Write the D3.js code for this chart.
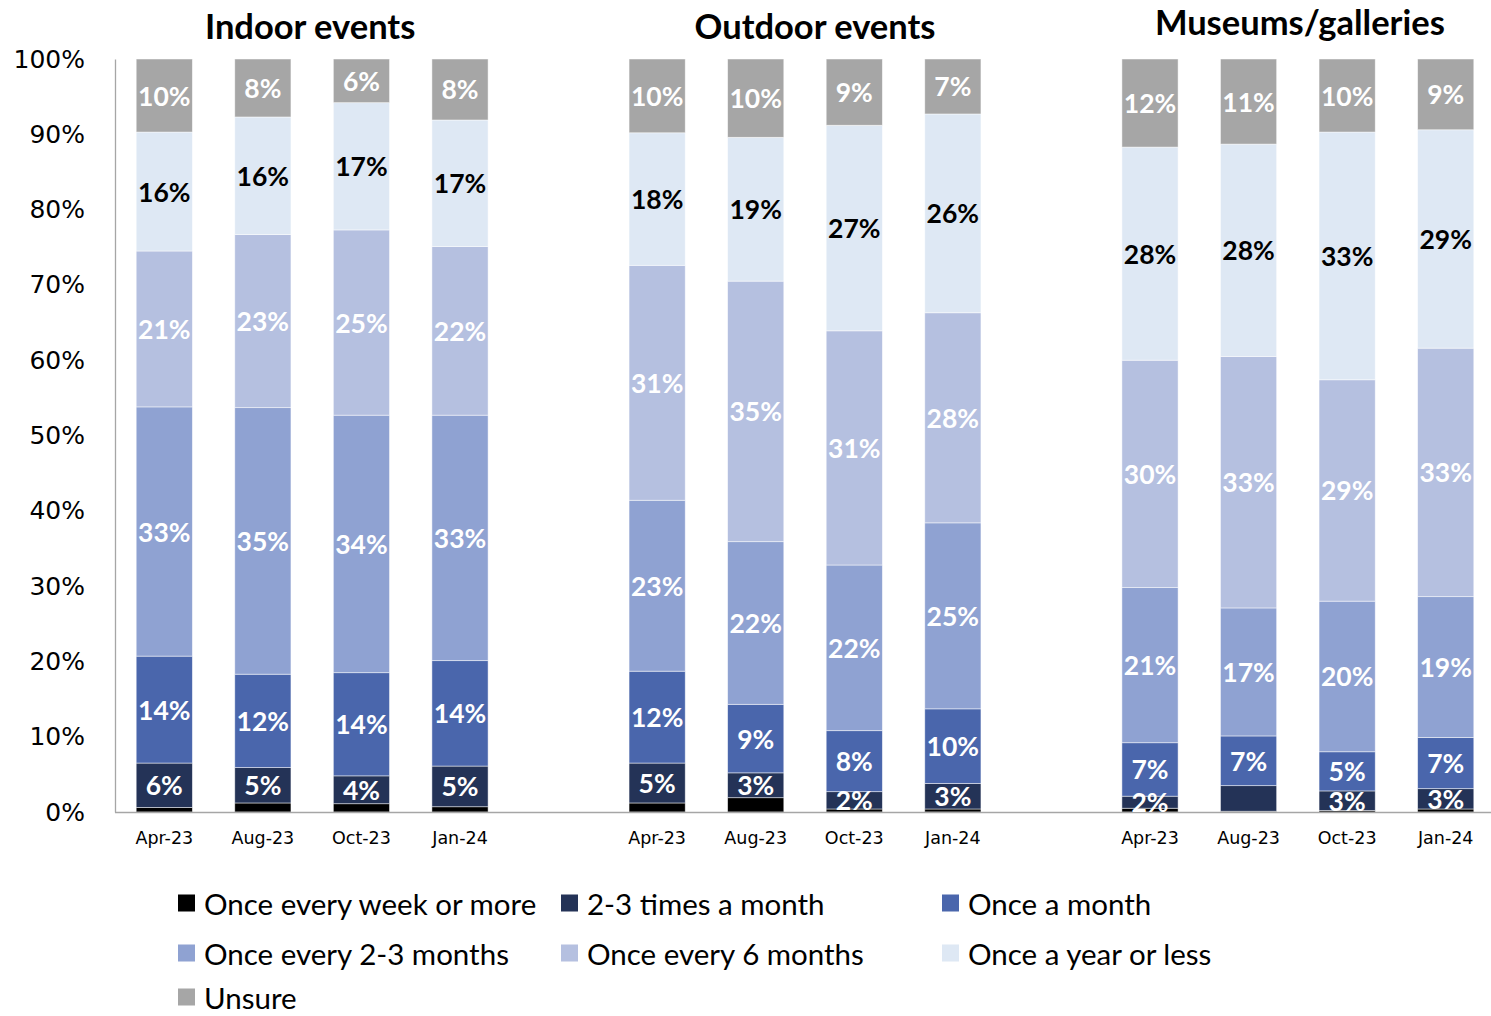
<!DOCTYPE html>
<html>
<head>
<meta charset="utf-8">
<script src="https://cdn.jsdelivr.net/npm/d3@7"></script>
<style>
  html, body { margin: 0; padding: 0; background: #fff; }
  svg { display: block; }
</style>
</head>
<body>
<svg id="chart" width="1491" height="1016"></svg>
<script>
// ---------- DATA ----------
const groups = ["Indoor events", "Outdoor events", "Museums/galleries"];
const periods = ["Apr-23", "Aug-23", "Oct-23", "Jan-24"];
const seriesNames = [
  "Once every week or more",
  "2-3 times a month",
  "Once a month",
  "Once every 2-3 months",
  "Once every 6 months",
  "Once a year or less",
  "Unsure"
];
// values in %, order: Indoor(Apr,Aug,Oct,Jan), Outdoor(...), Museums(...)
const onceWeek      = [0.6, 1.2, 1.1, 0.7,   1.2, 1.9, 0.4, 0.4,   0.5, 0.1, 0.2, 0.4];
const twoThreeMonth = [5.9, 4.7, 3.7, 5.4,   5.3, 3.3, 2.3, 3.4,   1.6, 3.4, 2.6, 2.7];
const onceMonth     = [14.2, 12.4, 13.7, 14.0, 12.2, 9.1, 8.1, 9.9,  7.1, 6.6, 5.2, 6.8];
const every2to3     = [33.1, 35.4, 34.2, 32.6, 22.7, 21.6, 22.0, 24.7, 20.6, 17.0, 20.0, 18.7];
const every6        = [20.7, 23.0, 24.6, 22.4, 31.2, 34.6, 31.1, 27.9, 30.2, 33.4, 29.4, 33.0];
const yearOrLess    = [15.8, 15.6, 16.9, 16.8, 17.6, 19.1, 27.3, 26.4, 28.3, 28.2, 32.9, 29.0];
const unsure        = [9.7, 7.7, 5.8, 8.1,   9.8, 10.4, 8.8, 7.3,   11.7, 11.3, 9.7, 9.4];
const yTicks = [0, 10, 20, 30, 40, 50, 60, 70, 80, 90, 100];
// labels that are not shown in the original
const hiddenLabels = ["Museums/galleries|Aug-23|2-3 times a month"];
const unlabeledSeries = ["Once every week or more"];

const seriesValues = [onceWeek, twoThreeMonth, onceMonth, every2to3, every6, yearOrLess, unsure];
const colors = ["#000000", "#243357", "#4A66AC", "#8FA2D2", "#B5C0E0", "#DEE8F4", "#A6A6A6"];
const labelColors = ["#fff", "#fff", "#fff", "#fff", "#fff", "#000", "#fff"];

// ---------- BUILD ROWS ----------
const rows = [];
groups.forEach((g, gi) => {
  periods.forEach((p, pi) => {
    const row = { group: g, period: p, key: g + "|" + p };
    seriesNames.forEach((s, si) => { row[s] = seriesValues[si][gi * periods.length + pi]; });
    rows.push(row);
  });
});

// slot domain: 4 bars per group with one empty slot between groups
const slots = [];
groups.forEach((g, gi) => {
  periods.forEach(p => slots.push(g + "|" + p));
  if (gi < groups.length - 1) slots.push("gap" + gi);
});

const svg = d3.select("#chart");
const W = 1491, H = 1016;
const plotLeft = 115, plotRight = 1495, plotTop = 59, plotBottom = 812;

const x = d3.scaleBand().domain(slots).range([plotLeft, plotRight])
  .paddingInner(0.43).paddingOuter(0.215);
const y = d3.scaleLinear().domain([0, 100]).range([plotBottom, plotTop]);
const color = d3.scaleOrdinal().domain(seriesNames).range(colors);

const stack = d3.stack().keys(seriesNames);
const stacked = stack(rows);

// ---------- BARS ----------
const layer = svg.append("g").selectAll("g").data(stacked).join("g")
  .attr("fill", d => color(d.key));
layer.selectAll("rect").data(d => d.map(v => ({ v, key: d.key }))).join("rect")
  .attr("x", d => x(d.v.data.key))
  .attr("width", x.bandwidth())
  .attr("y", d => y(d.v[1]))
  .attr("height", d => Math.max(0, y(d.v[0]) - y(d.v[1])))
  .attr("stroke", "rgba(255,255,255,0.6)")
  .attr("stroke-width", 0.8);

// ---------- AXES ----------
const yAxis = d3.axisLeft(y).tickValues(yTicks).tickSize(0).tickPadding(30)
  .tickFormat(d => d + "%");
const gy = svg.append("g").attr("transform", `translate(${plotLeft},0)`).call(yAxis);
gy.select(".domain").attr("stroke", "#A6A6A6").attr("stroke-width", 1.3);
gy.selectAll("text").attr("font-family", "'DejaVu Sans', sans-serif").attr("font-size", 25)
  .attr("fill", "#000");

const xAxis = d3.axisBottom(x).tickSize(0).tickPadding(20)
  .tickValues(slots.filter(s => !s.startsWith("gap")))
  .tickFormat(d => d.split("|")[1]);
const gx = svg.append("g").attr("transform", `translate(0,${plotBottom})`).call(xAxis);
gx.select(".domain").attr("stroke", "#A6A6A6").attr("stroke-width", 1.3)
  .attr("d", `M${plotLeft},0.5H${W}`);
gx.selectAll("text").attr("font-family", "'DejaVu Sans', sans-serif").attr("font-size", 17.5)
  .attr("fill", "#000");

// ---------- DATA LABELS ----------
const labels = svg.append("g");
stacked.forEach((layerData, si) => {
  if (unlabeledSeries.includes(layerData.key)) return;
  layerData.forEach(v => {
    const k = v.data.key + "|" + layerData.key;
    if (hiddenLabels.includes(k)) return;
    labels.append("text")
      .attr("x", x(v.data.key) + x.bandwidth() / 2)
      .attr("y", (y(v[0]) + y(v[1])) / 2)
      .attr("text-anchor", "middle")
      .attr("dominant-baseline", "central")
      .attr("font-family", "Lato, sans-serif")
      .attr("font-weight", "bold")
      .attr("font-size", 26.5)
      .attr("fill", labelColors[si])
      .text(Math.round(v[1] - v[0]) + "%");
  });
});

// ---------- GROUP TITLES ----------
const titleDx = [-2, 10, 2];
const titleDy = [0, 0, -4];
groups.forEach((g, gi) => {
  const first = x(g + "|" + periods[0]);
  const last = x(g + "|" + periods[periods.length - 1]) + x.bandwidth();
  svg.append("text")
    .attr("x", (first + last) / 2 + titleDx[gi])
    .attr("y", 25 + titleDy[gi])
    .attr("text-anchor", "middle")
    .attr("dominant-baseline", "central")
    .attr("font-family", "Lato, sans-serif")
    .attr("font-weight", "bold")
    .attr("font-size", 34.5)
    .attr("fill", "#000")
    .text(g);
});

// ---------- LEGEND ----------
const legendCols = [178, 561, 942];
const legendRows = [903, 953, 997];
const legend = svg.append("g");
seriesNames.forEach((s, i) => {
  const cx = legendCols[i % 3], cy = legendRows[Math.floor(i / 3)];
  legend.append("rect").attr("x", cx).attr("y", cy - 8.5).attr("width", 17).attr("height", 17)
    .attr("fill", color(s));
  legend.append("text").attr("x", cx + 26).attr("y", cy)
    .attr("dominant-baseline", "central")
    .attr("font-family", "Lato, sans-serif")
    .attr("font-size", 29.5)
    .attr("fill", "#000")
    .text(s);
});
</script>
</body>
</html>
